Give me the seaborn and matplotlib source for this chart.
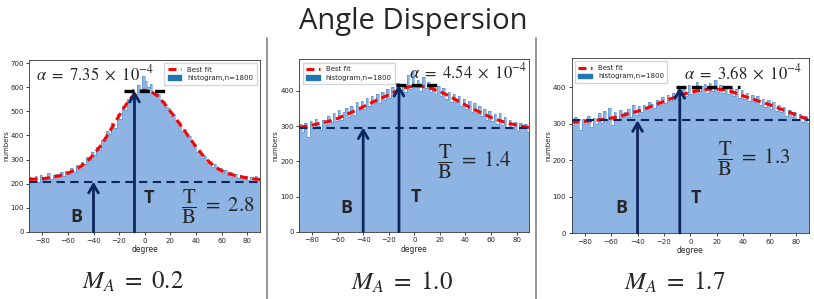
import numpy as np
import pandas as pd
import matplotlib
matplotlib.use("Agg")
import matplotlib.pyplot as plt
import seaborn as sns
from matplotlib.lines import Line2D
from matplotlib.patches import Patch

sns.set_style("ticks")
plt.rcParams["font.family"] = ["DejaVu Sans"]
plt.rcParams["mathtext.fontset"] = "stix"

# ---- data ----
bin_centers = np.arange(-89, 90, 2)
fit_deg = np.arange(-90, 91, 5)

hist_02 = [226, 212, 231, 208, 238, 215, 229, 246, 218, 236,
           240, 226, 248, 232, 251, 241, 266, 249, 276, 262,
           290, 281, 309, 298, 331, 318, 352, 340, 383, 376,
           419, 405, 452, 430, 488, 468, 522, 507, 551, 540,
           592, 568, 610, 590, 645, 625, 600, 612, 578, 585,
           572, 548, 541, 520, 512, 481, 488, 462, 455, 420,
           425, 392, 398, 361, 365, 332, 338, 306, 314, 285,
           296, 270, 281, 255, 266, 243, 258, 236, 249, 228,
           241, 222, 236, 218, 234, 216, 229, 212, 231, 221]
fit_02 = [218, 219, 221, 224, 229, 235, 244, 256, 272, 293, 320, 354, 394,
          438, 482, 525, 560, 582, 588, 582, 564, 535, 500, 465, 428, 390,
          353, 320, 292, 270, 254, 243, 235, 229, 224, 220, 218]

hist_10 = [305, 282, 310, 268, 316, 295, 321, 300, 289, 318,
           302, 330, 311, 338, 316, 345, 318, 340, 352, 326,
           356, 331, 368, 345, 372, 349, 381, 356, 385, 366,
           392, 365, 398, 374, 405, 380, 412, 391, 423, 398,
           420, 398, 445, 405, 458, 412, 432, 401, 440, 408,
           425, 398, 418, 392, 415, 386, 408, 378, 398, 370,
           392, 368, 385, 356, 378, 349, 372, 340, 366, 338,
           356, 328, 348, 318, 342, 315, 335, 306, 338, 303,
           325, 298, 318, 291, 312, 286, 309, 295, 305, 284]
fit_10 = [297, 299, 303, 307, 311, 316, 322, 330, 338, 346, 355, 364, 373,
          381, 389, 398, 406, 411, 414, 414, 411, 405, 398, 390, 380, 370,
          360, 351, 342, 333, 325, 318, 312, 307, 303, 299, 296]

hist_17 = [296, 318, 305, 282, 312, 298, 321, 290, 316, 300,
           328, 302, 335, 310, 342, 296, 331, 312, 338, 318,
           332, 341, 318, 350, 325, 348, 331, 352, 340, 358,
           355, 342, 366, 350, 372, 356, 378, 361, 385, 368,
           392, 370, 402, 376, 405, 382, 398, 415, 389, 402,
           408, 385, 412, 390, 420, 388, 406, 384, 402, 381,
           398, 375, 396, 370, 392, 368, 385, 362, 378, 359,
           375, 352, 368, 345, 366, 341, 359, 336, 352, 331,
           345, 322, 338, 318, 331, 312, 326, 305, 322, 303]
fit_17 = [304, 305, 306, 308, 310, 312, 315, 319, 324, 329, 334, 340, 347,
          354, 361, 368, 375, 381, 386, 390, 393, 395, 395, 393, 389, 383,
          376, 370, 364, 358, 352, 345, 338, 331, 324, 317, 311]

alphas = ["7.35", "4.54", "3.68"]
ratios = ["2.8", "1.4", "1.3"]
mach = ["0.2", "1.0", "1.7"]
base_lvl = [208, 296, 309]
peak_lvl = [585, 417, 400]
peak_span = [(-16.5, 16), (-14.5, 17.5), (-10.5, 37.5)]
t_x = [-8, -12, -8]
ymax = [713, 490, 480]
yticks = [np.arange(0, 701, 100), np.arange(0, 401, 100), np.arange(0, 401, 100)]

# layout helpers (figure fractions)
axes_pos = [[0.0362, 0.2241, 0.2832, 0.5753],
            [0.3677, 0.2251, 0.2826, 0.5766],
            [0.7021, 0.2207, 0.2920, 0.5853]]
alpha_pos = [(-85, 655, "left"), (88, 455, "right"), (85, 438, "right")]
ratio_pos = [(28, 104), (18, 199), (20, 205)]
b_pos = [(-53, 62), (-53, 66), (-52.5, 68)]
t_pos = [(3.5, 139), (1, 100), (4.5, 96)]
leg_loc = ["upper right", "upper left", "upper left"]
label_x = [133 / 814, 402 / 814, 675 / 814]

navy = "#0c2660"
fill_col = "#8db4e3"

fig = plt.figure(figsize=(8.14, 2.99), dpi=100)
fig.text(413 / 814, 1 - 22 / 299, "Angle Dispersion", ha="center", va="center",
         fontsize=21, family=["Open Sans", "DejaVu Sans"])

for xline in [267, 536]:
    fig.add_artist(Line2D([xline / 814] * 2, [0, 1 - 38 / 299],
                          transform=fig.transFigure, color="#8c8c8c", lw=1.3))

hists = [hist_02, hist_10, hist_17]
fits = [fit_02, fit_10, fit_17]

for i in range(3):
    ax = fig.add_axes(axes_pos[i])
    hdf = pd.DataFrame({"degree": bin_centers, "count": hists[i]})
    fdf = pd.DataFrame({"degree": fit_deg, "fit": fits[i]})
    sns.histplot(data=hdf, x="degree", weights="count", bins=90,
                 binrange=(-90, 90), color=fill_col, alpha=1, linewidth=0,
                 ax=ax)
    sns.histplot(data=hdf, x="degree", weights="count", bins=90,
                 binrange=(-90, 90), element="step", fill=False,
                 color="#3a86c8", alpha=0.55, linewidth=0.6, ax=ax)
    sns.lineplot(data=fdf, x="degree", y="fit", color="red", lw=2.2,
                 linestyle=(0, (2.6, 1.5)), ax=ax)
    ax.axhline(base_lvl[i], color=navy, lw=1.5, linestyle=(0, (4, 2.6)))
    ax.plot(peak_span[i], [peak_lvl[i]] * 2, color="black", lw=2.4,
            linestyle=(0, (3, 1.6)))
    arrow = dict(arrowstyle="->,head_length=0.6,head_width=0.35", lw=2,
                 color=navy, shrinkA=0, shrinkB=0)
    ax.annotate("", xy=(-40, base_lvl[i]), xytext=(-40, 0), arrowprops=arrow)
    ax.annotate("", xy=(t_x[i], peak_lvl[i]), xytext=(t_x[i], 0), arrowprops=arrow)

    ax.text(b_pos[i][0], b_pos[i][1], "B", fontsize=13, fontweight="bold",
            ha="center", va="center", family=["Open Sans", "DejaVu Sans"])
    ax.text(t_pos[i][0], t_pos[i][1], "T", fontsize=13, fontweight="bold",
            ha="center", va="center", family=["Open Sans", "DejaVu Sans"])
    ax.text(ratio_pos[i][0], ratio_pos[i][1],
            r"$\dfrac{\mathrm{T}}{\mathrm{B}}\ =\ " + ratios[i] + "$",
            fontsize=15, ha="left", va="center")
    ax.text(alpha_pos[i][0], alpha_pos[i][1],
            r"$\alpha\ =\ " + alphas[i] + r"\ \times\ 10^{-4}$", fontsize=12,
            ha=alpha_pos[i][2], va="center")

    ax.set_xlim(-90, 90)
    ax.set_ylim(0, ymax[i])
    ax.set_xticks(np.arange(-80, 81, 20))
    ax.set_yticks(yticks[i])
    ax.tick_params(labelsize=5, length=2.5, width=0.6, pad=1.5)
    ax.set_xlabel("degree", fontsize=5.5, labelpad=1)
    ax.set_ylabel("numbers", fontsize=5, labelpad=1)
    for s in ax.spines.values():
        s.set_linewidth(0.6)
        s.set_color("#333333")

    handles = [Line2D([], [], color="red", lw=2.2, linestyle=(0, (2.6, 1.5))),
               Patch(color="#1f77b4")]
    ax.legend(handles, ["Best fit", "histogram,n=1800"], loc=leg_loc[i],
              fontsize=5, frameon=True, borderpad=0.5, handlelength=2.0,
              labelspacing=0.35, fancybox=False, edgecolor="#cccccc")

    fig.text(label_x[i], 1 - 282 / 299, r"$M_A\ =\ " + mach[i] + "$",
             fontsize=18, ha="center", va="center")

fig.savefig("out.png", dpi=100)
